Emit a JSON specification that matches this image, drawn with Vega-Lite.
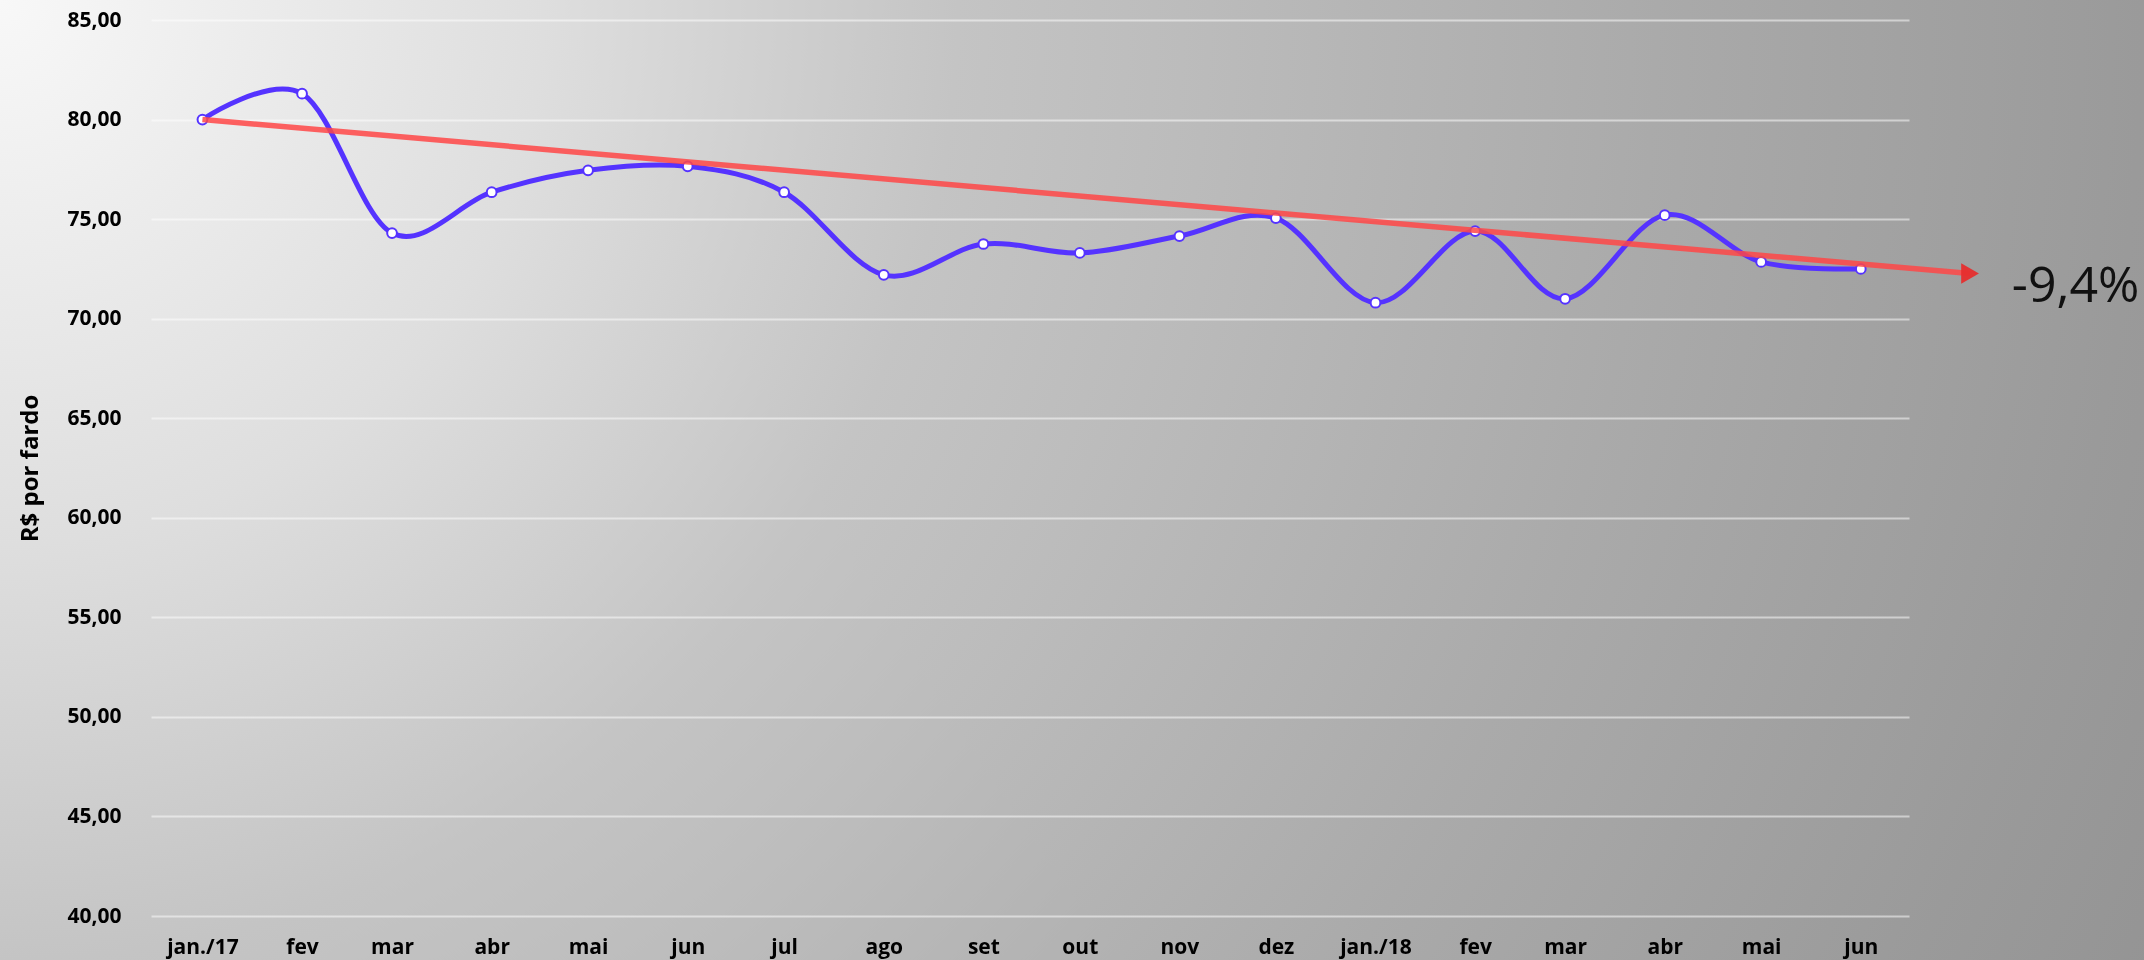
{
  "$schema": "https://vega.github.io/schema/vega-lite/v6.json",
  "width": 1758,
  "height": 896,
  "autosize": {"type": "none"},
  "padding": {"left": 151, "top": 20, "right": 235, "bottom": 44},
  "background": "#808080",
  "config": {
    "view": {"stroke": null},
    "font": "Open Sans",
    "axisX": {
      "grid": false,
      "domain": false,
      "ticks": false,
      "labelFont": "Open Sans",
      "labelFontWeight": "bold",
      "labelFontSize": 21,
      "labelColor": "#000000",
      "labelPadding": 20,
      "labelOverlap": false,
      "labelFlush": false
    },
    "axisY": {
      "grid": true,
      "gridColor": "#c0c0c0",
      "gridWidth": 2,
      "domain": false,
      "ticks": false,
      "labelFont": "Open Sans",
      "labelFontWeight": "bold",
      "labelFontSize": 21,
      "labelColor": "#000000",
      "labelPadding": 30,
      "titleFont": "Open Sans",
      "titleFontWeight": "bold",
      "titleFontSize": 24,
      "titleColor": "#000000",
      "titlePadding": 24
    }
  },
  "datasets": {
    "precos": [
      {"mes": "2017-01-01", "valor": 80.0},
      {"mes": "2017-02-01", "valor": 81.3},
      {"mes": "2017-03-01", "valor": 74.3},
      {"mes": "2017-04-01", "valor": 76.35},
      {"mes": "2017-05-01", "valor": 77.45},
      {"mes": "2017-06-01", "valor": 77.65},
      {"mes": "2017-07-01", "valor": 76.35},
      {"mes": "2017-08-01", "valor": 72.2},
      {"mes": "2017-09-01", "valor": 73.75},
      {"mes": "2017-10-01", "valor": 73.3},
      {"mes": "2017-11-01", "valor": 74.15},
      {"mes": "2017-12-01", "valor": 75.05},
      {"mes": "2018-01-01", "valor": 70.8},
      {"mes": "2018-02-01", "valor": 74.4},
      {"mes": "2018-03-01", "valor": 71.0},
      {"mes": "2018-04-01", "valor": 75.2},
      {"mes": "2018-05-01", "valor": 72.85},
      {"mes": "2018-06-01", "valor": 72.5}
    ],
    "tendencia": [
      {"mes": "2017-01-01", "valor": 80.0},
      {"mes": "2018-07-05", "valor": 72.27}
    ],
    "rotulo": [
      {"mes": "2018-07-18", "valor": 71.6, "texto": "-9,4%"}
    ]
  },
  "layer": [
    {
      "data": {"values": [{"fundo": 1}]},
      "mark": {
        "type": "rect",
        "blend": "overlay",
        "fill": {
          "gradient": "radial",
          "x1": 0.001, "y1": 0.277, "r1": 0,
          "x2": 0.001, "y2": 0.277, "r2": 1.1,
          "stops": [
            {"offset": 0, "color": "#f8f8f8"},
            {"offset": 0.23, "color": "#dedede"},
            {"offset": 0.405, "color": "#c4c4c4"},
            {"offset": 0.5, "color": "#bcbcbc"},
            {"offset": 0.7, "color": "#aaaaaa"},
            {"offset": 0.905, "color": "#9a9a9a"},
            {"offset": 1, "color": "#949494"}
          ]
        }
      },
      "encoding": {
        "x": {"datum": {"year": 2016, "month": 10, "date": 29, "utc": true}, "type": "temporal", "title": null},
        "x2": {"datum": {"year": 2018, "month": 8, "date": 30, "utc": true}},
        "y": {"datum": 37.7, "type": "quantitative", "title": "R$ por fardo"},
        "y2": {"datum": 86.1}
      }
    },
    {
      "data": {"name": "precos"},
      "mark": {"type": "line", "interpolate": "cardinal", "color": "#5533ff", "strokeWidth": 5},
      "encoding": {
        "x": {
          "field": "mes",
          "type": "temporal",
          "title": null,
          "scale": {
            "type": "utc",
            "domain": [
              {"year": 2016, "month": 12, "date": 16, "utc": true},
              {"year": 2018, "month": 6, "date": 16, "utc": true}
            ]
          },
          "axis": {
            "tickCount": {"interval": "month", "step": 1},
            "labelExpr": "utcmonth(datum.value) == 0 ? 'jan./' + utcFormat(datum.value, '%y') : ['jan','fev','mar','abr','mai','jun','jul','ago','set','out','nov','dez'][utcmonth(datum.value)]"
          }
        },
        "y": {
          "field": "valor",
          "type": "quantitative",
          "title": "R$ por fardo",
          "scale": {"domain": [40, 85], "nice": false, "zero": false},
          "axis": {
            "values": [40, 45, 50, 55, 60, 65, 70, 75, 80, 85],
            "labelExpr": "replace(format(datum.value, '.2f'), '.', ',')"
          }
        }
      }
    },
    {
      "data": {"name": "precos"},
      "mark": {"type": "point", "filled": true, "fill": "#ffffff", "stroke": "#5533ff", "strokeWidth": 2, "size": 95, "opacity": 1},
      "encoding": {
        "x": {"field": "mes", "type": "temporal", "title": null},
        "y": {"field": "valor", "type": "quantitative", "title": "R$ por fardo"}
      }
    },
    {
      "data": {"name": "tendencia"},
      "mark": {"type": "line", "color": "#ff4646", "opacity": 0.85, "strokeWidth": 5.5},
      "encoding": {
        "x": {"field": "mes", "type": "temporal", "title": null},
        "y": {"field": "valor", "type": "quantitative", "title": "R$ por fardo"}
      }
    },
    {
      "data": {"name": "tendencia"},
      "transform": [{"filter": "datum.valor < 75"}],
      "mark": {"type": "point", "shape": "triangle-right", "filled": true, "color": "#e62e2e", "opacity": 0.95, "size": 420},
      "encoding": {
        "x": {"field": "mes", "type": "temporal", "title": null},
        "y": {"field": "valor", "type": "quantitative", "title": "R$ por fardo"}
      }
    },
    {
      "data": {"name": "rotulo"},
      "mark": {"type": "text", "align": "left", "baseline": "middle", "font": "Open Sans", "fontSize": 50, "color": "#111111"},
      "encoding": {
        "x": {"field": "mes", "type": "temporal", "title": null},
        "y": {"field": "valor", "type": "quantitative", "title": "R$ por fardo"},
        "text": {"field": "texto"}
      }
    }
  ]
}
